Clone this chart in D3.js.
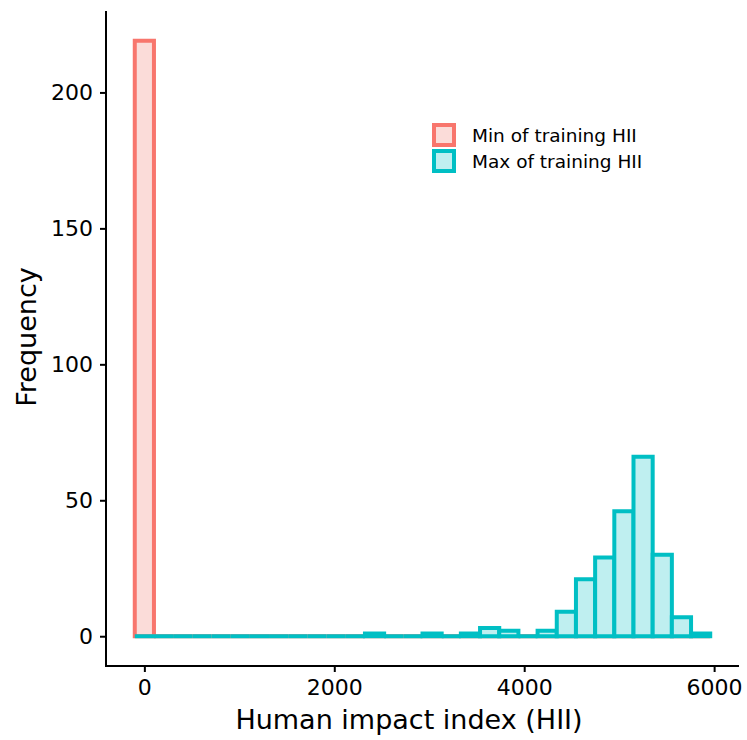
<!DOCTYPE html>
<html>
<head>
<meta charset="utf-8">
<style>
  body { margin: 0; background: #fff; }
  svg text { font-family: "DejaVu Sans", sans-serif; fill: #000; }
</style>
<script src="https://cdn.jsdelivr.net/npm/d3@7"></script>
</head>
<body>
<script>
// histogram bins (centres) shared by both groups, ggplot style
var binMids = [0, 202, 404, 606, 808, 1010, 1212, 1414, 1616, 1818,
               2020, 2222, 2424, 2626, 2828, 3030, 3232, 3434, 3636, 3838,
               4040, 4242, 4444, 4646, 4848, 5050, 5252, 5454, 5656, 5858];
var binWidth = 202;
var minCounts = [219, 0, 0, 0, 0, 0, 0, 0, 0, 0,
                 0, 0, 0, 0, 0, 0, 0, 0, 0, 0,
                 0, 0, 0, 0, 0, 0, 0, 0, 0, 0];
var maxCounts = [0, 0, 0, 0, 0, 0, 0, 0, 0, 0,
                 0, 0, 1, 0, 0, 1, 0, 1, 3, 2,
                 0, 2, 9, 21, 29, 46, 66, 30, 7, 1];
var seriesNames = ["Min of training HII", "Max of training HII"];
var strokeCols = ["#F8766D", "#00BFC4"];
var fillCols = ["#FBDCD9", "#BFEFF0"];
var xTicks = [0, 2000, 4000, 6000];
var yTicks = [0, 50, 100, 150, 200];

var W = 747, H = 740;
var panel = {left: 106, right: 739, top: 11, bottom: 666};

var svg = d3.select("body").append("svg")
  .attr("width", W).attr("height", H);

var x = d3.scaleLinear().domain([-404, 6262]).range([panel.left, panel.right]);
var y = d3.scaleLinear().domain([-10.95, 229.95]).range([panel.bottom, panel.top]);

function barPath(mid, c) {
  var x0 = x(mid - binWidth / 2), x1 = x(mid + binWidth / 2);
  var y0 = y(0), y1 = y(c);
  return "M" + x0 + "," + y0 + "V" + y1 + "H" + x1 + "V" + y0 + "Z";
}

[minCounts, maxCounts].forEach(function(counts, k) {
  svg.append("g").selectAll("path")
    .data(counts).enter().append("path")
    .attr("d", function(d, i) { return barPath(binMids[i], d); })
    .attr("fill", fillCols[k])
    .attr("stroke", strokeCols[k])
    .attr("stroke-width", 4)
    .attr("stroke-linejoin", "miter");
});

// axes
var xAxis = svg.append("g")
  .attr("transform", "translate(0," + panel.bottom + ")")
  .call(d3.axisBottom(x).tickValues(xTicks).tickSize(6).tickPadding(7).tickFormat(d3.format("d")));
var yAxis = svg.append("g")
  .attr("transform", "translate(" + panel.left + ",0)")
  .call(d3.axisLeft(y).tickValues(yTicks).tickSize(6).tickPadding(7).tickFormat(d3.format("d")));

[xAxis, yAxis].forEach(function(a) {
  a.select(".domain").attr("stroke", "#000").attr("stroke-width", 2)
    .attr("d", a === xAxis ? "M" + (panel.left - 1) + ",0H" + panel.right : "M0," + panel.top + "V" + (panel.bottom + 1));
  a.selectAll(".tick line").attr("stroke", "#000").attr("stroke-width", 2);
  a.selectAll(".tick text").attr("font-size", 22).attr("fill", "#000")
    .attr("font-family", "DejaVu Sans");
});

// axis titles
svg.append("text")
  .attr("x", 409).attr("y", 729)
  .attr("text-anchor", "middle")
  .attr("font-size", 27)
  .text("Human impact index (HII)");
svg.append("text")
  .attr("transform", "translate(36,337) rotate(-90)")
  .attr("text-anchor", "middle")
  .attr("font-size", 27)
  .text("Frequency");

// legend
var legend = svg.append("g").attr("transform", "translate(433,124)");
seriesNames.forEach(function(name, k) {
  var g = legend.append("g").attr("transform", "translate(0," + (k * 26) + ")");
  g.append("rect")
    .attr("x", 1).attr("y", 1).attr("width", 20).attr("height", 20)
    .attr("fill", fillCols[k]).attr("stroke", strokeCols[k]).attr("stroke-width", 4);
  g.append("text")
    .attr("x", 39).attr("y", 11)
    .attr("dominant-baseline", "central")
    .attr("font-size", 18.5)
    .text(name);
});
</script>
</body>
</html>
